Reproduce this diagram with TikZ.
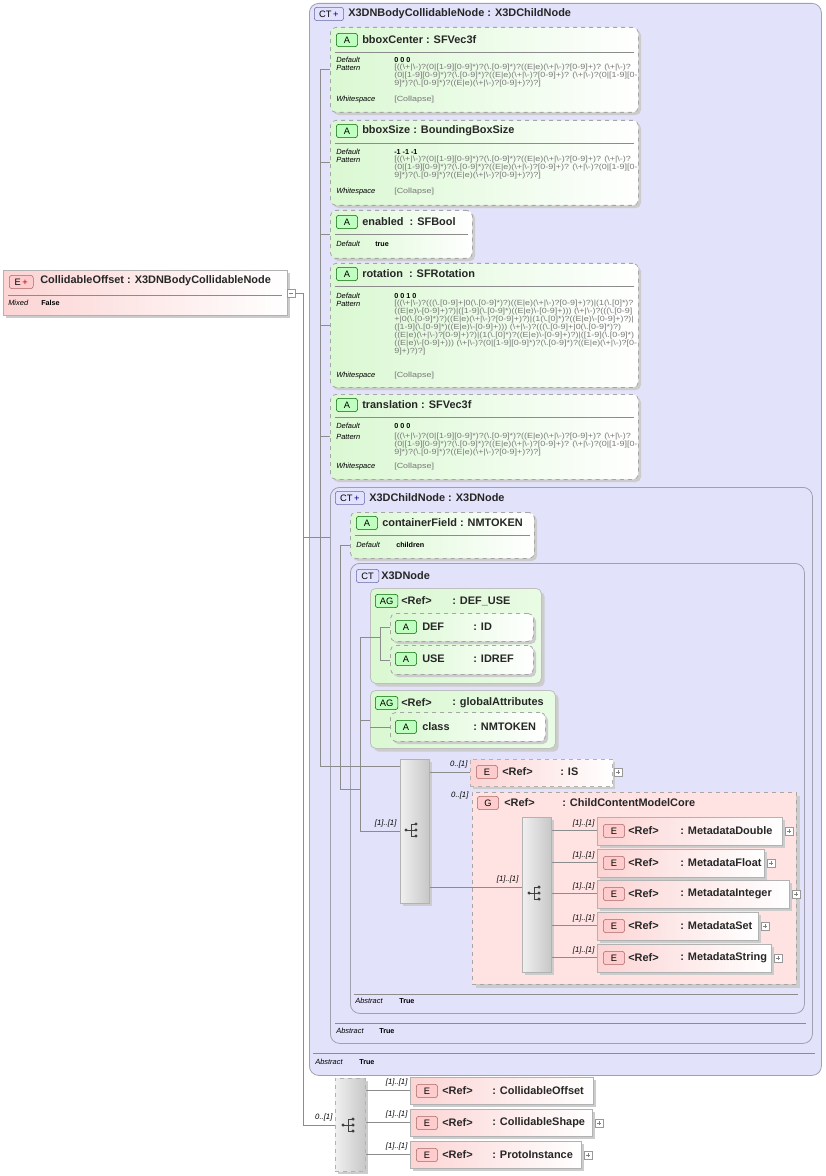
\documentclass[tikz,border=0pt]{standalone}
\usepackage{fontspec}
\usepackage{graphicx}
\setmainfont{Liberation Sans}
\usetikzlibrary{shadows}
\definecolor{ctfill}{RGB}{226,226,250}
\definecolor{ctline}{RGB}{160,160,175}
\definecolor{grn}{RGB}{218,248,210}
\definecolor{pnk}{RGB}{252,212,212}
\definecolor{pnkg}{RGB}{255,226,226}
\definecolor{ptn}{RGB}{120,120,120}
\newcommand\bs{\textbackslash}
\newcommand\bx[6]{\node[#1,anchor=north west,minimum width=#5*0.75pt,minimum height=#6*0.75pt,inner sep=0pt] (#2) at (#3,#4) {};}
\newcommand\tx[3]{\node[ttl,anchor=west] at (#1,#2) {#3};}
\newcommand\lb[3]{\node[lab,anchor=west] at (#1,#2) {#3};}
\newcommand\vl[3]{\node[val,anchor=west] at (#1,#2) {#3};}
\newcommand\ptx[3]{\node[pat,anchor=west] at (#1,#2) {\scalebox{1.2}[1]{#3}};}
\newcommand\bdg[5]{\node[badge,fill=#4,draw=#5,anchor=west] at (#1,#2) {#3};}
\newcommand\icn[2]{\fill[black!75] (#1-7,#2) circle (1.3pt);
  \draw[black!75,line width=0.6pt] (#1-7,#2)--(#1-2,#2) (#1-2,#2-6)--(#1-2,#2+6) (#1-2,#2-6)--(#1+3,#2-6) (#1-2,#2)--(#1+3,#2) (#1-2,#2+6)--(#1+3,#2+6);
  \foreach \k in {-6,0,6}{\fill[black!75] (#1+3,#2+\k) circle (1.3pt);}}
\newcommand\pls[2]{\draw[black!40,fill=white] (#1,#2-4) rectangle (#1+8,#2+4); \draw[black!50] (#1+2,#2)--(#1+6,#2) (#1+4,#2-2)--(#1+4,#2+2);}
\newcommand\card[3]{\node[crd,anchor=south east] at (#1,#2) {#3};}
\tikzset{
  ct/.style={draw=ctline,fill=ctfill,rounded corners=7pt,line width=0.6pt},
  attr/.style={draw=black!35,dashed,left color=grn,right color=white,rounded corners=4pt,line width=0.6pt,drop shadow={shadow xshift=2pt,shadow yshift=-2pt,fill=black!20,opacity=1}},
  ag/.style={draw=black!25,left color=grn,right color=grn!60!white,rounded corners=4pt,line width=0.6pt,drop shadow={shadow xshift=2.5pt,shadow yshift=-2.5pt,fill=black!20,opacity=1}},
  el/.style={draw=black!30,left color=pnk,right color=white,line width=0.6pt,drop shadow={shadow xshift=2pt,shadow yshift=-2pt,fill=black!20,opacity=1}},
  eld/.style={el,dashed},
  grp/.style={draw=black!35,dashed,fill=pnkg,line width=0.6pt,drop shadow={shadow xshift=2.5pt,shadow yshift=-2.5pt,fill=black!20,opacity=1}},
  cmp/.style={draw=black!30,left color=black!6,right color=black!22,line width=0.6pt,drop shadow={shadow xshift=2pt,shadow yshift=-2pt,fill=black!20,opacity=1}},
  cmpd/.style={cmp,dashed},
  ttl/.style={font=\fontsize{8.2}{9}\selectfont\bfseries,text=black!85,inner sep=0pt},
  lab/.style={font=\fontsize{5.6}{6}\selectfont\itshape,inner sep=0pt},
  val/.style={font=\fontsize{5.4}{6}\selectfont\bfseries,inner sep=0pt},
  pat/.style={font=\fontsize{5.6}{6}\selectfont,text=ptn,inner sep=0pt},
  crd/.style={font=\fontsize{5.8}{6}\selectfont\itshape,inner sep=1pt},
  badge/.style={rounded corners=2pt,font=\fontsize{7}{7}\selectfont,inner sep=0pt,minimum height=10pt,minimum width=16pt},
  sep/.style={draw=black!45,line width=0.5pt},
  conn/.style={draw=black!45,line width=0.6pt}
}
\begin{document}
\begin{tikzpicture}[x=0.75pt,y=-0.75pt]
\useasboundingbox[fill=white] (0,0) rectangle (825,1176);
% main element
\bx{el}{main}{3}{270}{284}{45}
\node[badge,fill=pnk!80!red!60,draw=red!45!black!60,anchor=west,minimum width=18pt] (mb) at (9,282) {E\,\textcolor{red!70!black}{+}};
\tx{40}{281}{CollidableOffset : X3DNBodyCollidableNode}
\draw[sep] (8,295)--(282,295);
\lb{8}{303}{Mixed}\vl{41}{303}{False}
\draw[black!40,fill=white] (287,289) rectangle (295,297); \draw[black!50] (289,293)--(293,293);
% outer CT
\bx{ct}{ctA}{309}{3}{512}{1072}
\node[badge,fill=ctfill!70!blue!30,draw=blue!40!black!60,anchor=west,minimum width=22pt] at (314,14) {CT\,\textcolor{blue!50!black}{+}};
\tx{348}{14}{X3DNBodyCollidableNode : X3DChildNode}
\draw[sep] (313,1053)--(815,1053);
\lb{315}{1062}{Abstract}\vl{359}{1062}{True}
% bboxCenter
\bx{attr}{bc}{330}{27}{308}{85}
\bdg{336}{40}{A}{green!25}{green!40!black}
\tx{362}{40}{bboxCenter : SFVec3f}
\draw[sep] (335,52)--(634,52);
\lb{336}{60}{Default}\vl{394}{60}{0 0 0}
\lb{336}{68}{Pattern}
\ptx{394}{68}{[((\bs+|\bs-)?(0|[1-9][0-9]*)?(\bs.[0-9]*)?((E|e)(\bs+|\bs-)?[0-9]+)? (\bs+|\bs-)?}
\ptx{394}{76}{(0|[1-9][0-9]*)?(\bs.[0-9]*)?((E|e)(\bs+|\bs-)?[0-9]+)? (\bs+|\bs-)?(0|[1-9][0-}
\ptx{394}{84}{9]*)?(\bs.[0-9]*)?((E|e)(\bs+|\bs-)?[0-9]+)?)?]}
\lb{336}{100}{Whitespace}\ptx{394}{100}{[Collapse]}
% bboxSize
\bx{attr}{bs}{330}{120}{308}{85}
\bdg{336}{131}{A}{green!25}{green!40!black}
\tx{362}{131}{bboxSize : BoundingBoxSize}
\draw[sep] (335,143)--(634,143);
\lb{336}{152}{Default}\vl{394}{152}{-1 -1 -1}
\lb{336}{160}{Pattern}
\ptx{394}{160}{[((\bs+|\bs-)?(0|[1-9][0-9]*)?(\bs.[0-9]*)?((E|e)(\bs+|\bs-)?[0-9]+)? (\bs+|\bs-)?}
\ptx{394}{168}{(0|[1-9][0-9]*)?(\bs.[0-9]*)?((E|e)(\bs+|\bs-)?[0-9]+)? (\bs+|\bs-)?(0|[1-9][0-}
\ptx{394}{176}{9]*)?(\bs.[0-9]*)?((E|e)(\bs+|\bs-)?[0-9]+)?)?]}
\lb{336}{192}{Whitespace}\ptx{394}{192}{[Collapse]}
% enabled
\bx{attr}{en}{330}{210}{142}{48}
\bdg{336}{222}{A}{green!25}{green!40!black}
\tx{362}{222}{enabled \ : SFBool}
\draw[sep] (335,234)--(468,234);
\lb{336}{244}{Default}\vl{375}{244}{true}
% rotation
\bx{attr}{ro}{330}{263}{308}{124}
\bdg{336}{274}{A}{green!25}{green!40!black}
\tx{362}{274}{rotation \ : SFRotation}
\draw[sep] (335,286)--(634,286);
\lb{336}{296}{Default}\vl{394}{296}{0 0 1 0}
\lb{336}{304}{Pattern}
\ptx{394}{304}{[((\bs+|\bs-)?(((\bs.[0-9]+|0(\bs.[0-9]*)?)((E|e)(\bs+|\bs-)?[0-9]+)?)|(1(\bs.[0]*)?}
\ptx{394}{312}{((E|e)\bs-[0-9]+)?)|([1-9](\bs.[0-9]*)((E|e)\bs-[0-9]+))) (\bs+|\bs-)?(((\bs.[0-9]}
\ptx{394}{320}{+|0(\bs.[0-9]*)?)((E|e)(\bs+|\bs-)?[0-9]+)?)|(1(\bs.[0]*)?((E|e)\bs-[0-9]+)?)|}
\ptx{394}{328}{([1-9](\bs.[0-9]*)((E|e)\bs-[0-9]+))) (\bs+|\bs-)?(((\bs.[0-9]+|0(\bs.[0-9]*)?)}
\ptx{394}{336}{((E|e)(\bs+|\bs-)?[0-9]+)?)|(1(\bs.[0]*)?((E|e)\bs-[0-9]+)?)|([1-9](\bs.[0-9]*)}
\ptx{394}{344}{((E|e)\bs-[0-9]+))) (\bs+|\bs-)?(0|[1-9][0-9]*)?(\bs.[0-9]*)?((E|e)(\bs+|\bs-)?[0-}
\ptx{394}{352}{9]+)?)?]}
\lb{336}{376}{Whitespace}\ptx{394}{376}{[Collapse]}
% translation
\bx{attr}{tr}{330}{394}{308}{85}
\bdg{336}{405}{A}{green!25}{green!40!black}
\tx{362}{405}{translation : SFVec3f}
\draw[sep] (335,417)--(634,417);
\lb{336}{426}{Default}\vl{394}{426}{0 0 0}
\lb{336}{437}{Pattern}
\ptx{394}{437}{[((\bs+|\bs-)?(0|[1-9][0-9]*)?(\bs.[0-9]*)?((E|e)(\bs+|\bs-)?[0-9]+)? (\bs+|\bs-)?}
\ptx{394}{445}{(0|[1-9][0-9]*)?(\bs.[0-9]*)?((E|e)(\bs+|\bs-)?[0-9]+)? (\bs+|\bs-)?(0|[1-9][0-}
\ptx{394}{453}{9]*)?(\bs.[0-9]*)?((E|e)(\bs+|\bs-)?[0-9]+)?)?]}
\lb{336}{467}{Whitespace}\ptx{394}{467}{[Collapse]}
% X3DChildNode
\bx{ct}{ctB}{330}{487}{482}{556}
\node[badge,fill=ctfill!70!blue!30,draw=blue!40!black!60,anchor=west,minimum width=22pt] at (335,498) {CT\,\textcolor{blue!50!black}{+}};
\tx{369}{498}{X3DChildNode : X3DNode}
\draw[sep] (335,1023)--(806,1023);
\lb{336}{1031}{Abstract}\vl{379}{1031}{True}
% containerField
\bx{attr}{cf}{350}{512}{184}{46}
\bdg{356}{523}{A}{green!25}{green!40!black}
\tx{382}{523}{containerField : NMTOKEN}
\draw[sep] (355,535)--(530,535);
\lb{356}{545}{Default}\vl{396}{545}{children}
% X3DNode
\bx{ct}{ctC}{350}{563}{454}{450}
\node[badge,fill=ctfill!70!blue!30,draw=blue!40!black!60,anchor=west,minimum width=17pt] at (356,576) {CT};
\tx{381}{576}{X3DNode}
\draw[sep] (354,994)--(798,994);
\lb{355}{1001}{Abstract}\vl{399}{1001}{True}
% DEF_USE
\bx{ag}{du}{370}{588}{171}{95}
\node[badge,fill=green!25,draw=green!40!black,anchor=west,minimum width=17pt] at (375,601) {AG};
\tx{401}{601}{<Ref>}\tx{452}{601}{: DEF\_USE}
\bx{attr}{def}{390}{613}{143}{28}
\bdg{395}{627}{A}{green!25}{green!40!black}
\tx{422}{627}{DEF}\tx{473}{627}{: ID}
\bx{attr}{use}{390}{645}{143}{29}
\bdg{395}{659}{A}{green!25}{green!40!black}
\tx{422}{659}{USE}\tx{473}{659}{: IDREF}
% globalAttributes
\bx{ag}{ga}{370}{690}{185}{58}
\node[badge,fill=green!25,draw=green!40!black,anchor=west,minimum width=17pt] at (375,703) {AG};
\tx{401}{703}{<Ref>}\tx{452}{703}{: globalAttributes}
\bx{attr}{cl}{390}{712}{155}{29}
\bdg{395}{727}{A}{green!25}{green!40!black}
\tx{422}{727}{class}\tx{473}{727}{: NMTOKEN}
% sequence
\bx{cmp}{seq}{400}{759}{29}{144}
\icn{413}{830}
% IS
\bx{eld}{is}{470}{759}{142}{27}
\bdg{476}{772}{E}{pnk!80!red!60}{red!45!black!60}
\tx{502}{772}{<Ref>}\tx{560}{772}{: IS}
\pls{614}{772}
% group
\bx{grp}{gr}{472}{792}{324}{192}
\bdg{477}{803}{G}{pnk!80!red!60}{red!45!black!60}
\tx{504}{803}{<Ref>}\tx{562}{803}{: ChildContentModelCore}
\bx{cmp}{ch}{522}{817}{29}{155}
\icn{536}{893}
\foreach \nm/\y/\w/\txt in {md/817/185/MetadataDouble,mf/849/167/MetadataFloat,mi/880/192/MetadataInteger,ms/912/161/MetadataSet,mst/944/174/MetadataString}{
  \bx{el}{\nm}{597}{\y}{\w}{28}
  \bdg{603}{\y+14}{E}{pnk!80!red!60}{red!45!black!60}
  \tx{628}{\y+14}{<Ref>}\tx{680}{\y+14}{: \txt}
  \pls{597+\w+3}{\y+14}
  \draw[conn] (ch.east |- 0,\y+13) -- (\nm.west |- 0,\y+13);
  \card{596}{\y+12}{[1]..[1]}
}
% bottom choice
\bx{cmpd}{bch}{335}{1078}{30}{93}
\icn{350}{1125}
\foreach \nm/\y/\w/\txt/\pl in {co/1077/183/CollidableOffset/0,cs/1109/182/CollidableShape/1,pi/1141/171/ProtoInstance/1}{
  \bx{el}{\nm}{410}{\y}{\w}{27}
  \bdg{416}{\y+14}{E}{pnk!80!red!60}{red!45!black!60}
  \tx{442}{\y+14}{<Ref>}\tx{492}{\y+14}{: \txt}
  \ifnum\pl=1 \pls{410+\w+3}{\y+14}\fi
  \draw[conn] (bch.east |- 0,\y+13) -- (\nm.west |- 0,\y+13);
  \card{409}{\y+11}{[1]..[1]}
}
% tree connectors
\coordinate (b0) at (303,293);
\coordinate (b1) at (320,537);
\coordinate (b2) at (340,545);
\coordinate (b3) at (360,637);
\coordinate (b4) at (380,627);
\draw[conn] (295,293) -- (b0) -- (303,1125) -- (bch.west |- 0,1125);
\card{334}{1123}{0..[1]}
\draw[conn] (b0 |- b1) -- (b1);
\draw[conn] (320,69) -- (320,766) -- (seq.west |- 0,766);
\foreach \n/\y in {bc/69,bs/162,en/234,ro/325,tr/436}{\draw[conn] (320,\y) -- (\n.west |- 0,\y);}
\draw[conn] (b1) -- (ctB.west |- b1);
\draw[conn] (cf.west |- b2) -- (b2) -- (340,789) -- (360,789);
\draw[conn] (360,637) -- (360,831) -- (seq.west |- 0,831);
\card{398}{829}{[1]..[1]}
\draw[conn] (b3) -- (du.west |- b3);
\draw[conn] (360,720) -- (ga.west |- 0,720);
\draw[conn] (370,637) -- (b3 -| b4);
\draw[conn] (380,627) -- (380,660);
\draw[conn] (b4) -- (def.west |- b4);
\draw[conn] (380,660) -- (use.west |- 0,660);
\draw[conn] (370,727) -- (cl.west |- 0,727);
\draw[conn] (seq.east |- 0,772) -- (is.west |- 0,772);
\card{469}{770}{0..[1]}
\card{470}{801}{0..[1]}
\draw[conn] (seq.east |- 0,887) -- (ch.west |- 0,887);
\card{520}{885}{[1]..[1]}
\end{tikzpicture}
\end{document}
